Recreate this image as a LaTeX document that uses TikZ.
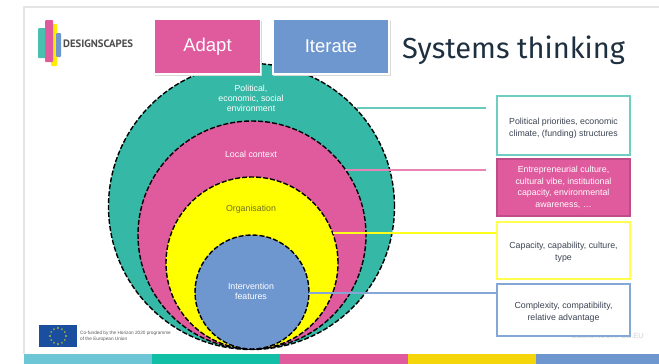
\documentclass[tikz,border=0pt]{standalone}
\usepackage{fontspec}
\usetikzlibrary{calc}
\setmainfont{Liberation Sans}
\newfontfamily\titlefont{Fira Sans}
\newfontfamily\logofont{PT Sans}
\definecolor{tealc}{HTML}{35B8A6}
\definecolor{pinkc}{HTML}{E05A9E}
\definecolor{yellowc}{HTML}{FFFF00}
\definecolor{bluec}{HTML}{6F97CF}
\definecolor{inkc}{HTML}{3C4452}
\definecolor{titlec}{HTML}{1E3040}
\definecolor{olivec}{HTML}{72721E}
\tikzset{
  ring/.style={circle,draw=black,line width=1.4pt,dash pattern=on 5pt off 2pt,inner sep=0pt,minimum size=#1},
  head/.style={draw=white,line width=1.6pt,text=white,font=\fontsize{18.5}{20}\selectfont,minimum height=55pt,inner sep=0pt},
  shade box/.style={fill=black!15,draw=none},
  note/.style={line width=1.1pt,align=center,minimum width=133pt,inner sep=0pt,font=\fontsize{8.8}{11.6}\selectfont,text=inkc},
  lead/.style={line width=1.4pt},
  ringtext/.style={text=white,align=center,font=\fontsize{8.8}{9.8}\selectfont,inner sep=0pt},
}
\begin{document}
\begin{tikzpicture}[x=1pt,y=-1pt]
\useasboundingbox (0,0) rectangle (659,364);
\fill[white] (0,0) rectangle (659,364);
% slide frame
\fill[black!10] (24,6) rectangle (659,7.5);
\fill[black!10] (23,6) rectangle (24.5,354);
% bottom bars
\fill[fill={rgb,255:red,108;green,198;blue,214}] (24,354) rectangle (152,364);
\fill[fill={rgb,255:red,16;green,191;blue,165}] (152,354) rectangle (280,364);
\fill[fill=pinkc] (280,354) rectangle (408,364);
\fill[fill={rgb,255:red,245;green,214;blue,10}] (408,354) rectangle (536,364);
\fill[fill=bluec] (536,354) rectangle (659,364);
% logo
\fill[rounded corners=1pt,tealc!90!white] (38,28) rectangle (47,58);
\fill[rounded corners=1pt,yellowc!85!orange] (51,24) rectangle (57,66);
\fill[rounded corners=1pt,pinkc] (45,20) rectangle (53,62);
\fill[rounded corners=1pt,bluec] (56,33) rectangle (61,57);
\node[anchor=west,inner sep=0pt,text=black!70,font=\logofont\bfseries\fontsize{10.7}{11}\selectfont] (logo) at (63,44) {DESIGNSCAPES};
% rings
\node[ring=286pt,fill=tealc] (outer) at (251.5,206.5) {};
\node[ring=228pt,fill=pinkc] (local) at (252,235) {};
\node[ring=172pt,fill=yellowc] (org) at (252,263) {};
\node[ring=114pt,fill=bluec] (interv) at (252,292) {};
\node[ringtext] (t1) at (251,98.5) {Political,\\economic, social\\environment};
\node[ringtext] (t2) at (251,154) {Local context};
\node[ringtext,text=olivec] (t3) at (251,209) {Organisation};
\node[ringtext] (t4) at (251,291.5) {Intervention\\features};
% head boxes
\fill[shade box] (155,21) rectangle (262,76);
\fill[shade box] (273,21) rectangle (391,76);
\node[head,fill=pinkc,minimum width=106pt] (adapt) at (207.5,46.5) {Adapt};
\node[head,fill=bluec,minimum width=116pt] (iterate) at (331,46.5) {Iterate};
\node[anchor=west,inner sep=0pt,text=titlec,font=\titlefont\fontsize{29}{31}\selectfont] (title) at (402,50) {Systems thinking};
% watermark
\node[anchor=east,inner sep=0pt,text=black!12,font=\bfseries\fontsize{7.5}{8}\selectfont] (mark) at (644,336) {DESIGNSCAPES.EU};
% note boxes
\node[note,draw=tealc!70!white,fill=white,minimum height=59pt] (n1) at (563.5,125.5) {\rule{0pt}{12pt}Political priorities, economic\\climate, (funding) structures};
\node[note,draw=pinkc!85!black,fill=pinkc,text=white,minimum height=57pt] (n2) at (563.5,187.5) {Entrepreneurial culture,\\cultural vibe, institutional\\capacity, environmental\\awareness, \dots};
\node[note,draw=yellowc!70!white,fill=white,minimum height=57pt] (n3) at (563.5,250.5) {\rule{0pt}{10pt}Capacity, capability, culture,\\type};
\node[note,draw=bluec!85!white,fill=white,minimum height=52pt] (n4) at (563.5,310) {\rule{0pt}{11pt}Complexity, compatibility,\\relative advantage};
% leaders
\coordinate (e1) at (486,108);
\coordinate (e2) at (486,170);
\coordinate (s1) at (356.5,108);
\coordinate (s2) at (345,170);
\coordinate (s3) at (333,233);
\coordinate (e3) at (n3.west |- s3);
\coordinate (s4) at (308.5,293);
\coordinate (e4) at (n4.west |- s4);
\draw[lead,draw=tealc!75!white] (s1) -- (e1);
\draw[lead,draw=pinkc!75!white] (s2) -- (e2);
\draw[lead,draw=yellowc!90!white] (s3) -- (e3);
\draw[lead,draw=bluec!85!white] (s4) -- (e4);
% EU flag
\node[draw=none,fill={rgb,255:red,26;green,79;blue,160},minimum width=38pt,minimum height=22pt,inner sep=0pt] (flag) at (58,336) {};
\foreach \a in {0,30,...,330}{\fill[yellow!90!orange] ($(flag)+(\a:8pt)$) circle (0.8pt);}
\node[anchor=west,inner sep=0pt,align=left,text=black!65,font=\fontsize{4.7}{5.6}\selectfont] (eutext) at (80,336) {Co-funded by the Horizon 2020 programme\\of the European Union};
\end{tikzpicture}
\end{document}
